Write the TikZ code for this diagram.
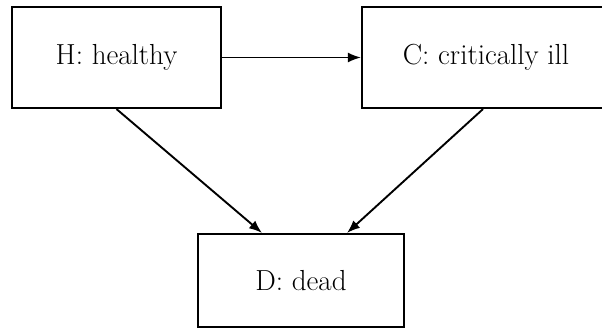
\documentclass[tikz,border=0pt]{standalone}
\usetikzlibrary{arrows.meta}
\begin{document}
\begin{tikzpicture}[x=1pt,y=-1pt,
  statebox/.style={draw, line width=2.1pt, inner sep=0pt, font=\fontsize{29}{35}\selectfont},
  conn/.style={line width=1.9pt, -{Latex[length=13pt,width=10pt]}}]
\clip (0,0) rectangle (602,328);
\node[statebox, minimum width=209pt, minimum height=101pt] (H) at (116.5,57.5) {H: healthy};
\node[statebox, minimum width=248pt, minimum height=101pt] (C) at (486,57.5) {C: critically ill};
\node[statebox, minimum width=206pt, minimum height=93pt] (D) at (301,280.5) {D: dead};
\draw[conn] (H.east) -- (C.west);
\draw[conn] (H.south) -- ([xshift=-39pt]D.north);
\draw[conn] ([xshift=-3pt]C.south) -- ([xshift=46pt]D.north);
\end{tikzpicture}
\end{document}
